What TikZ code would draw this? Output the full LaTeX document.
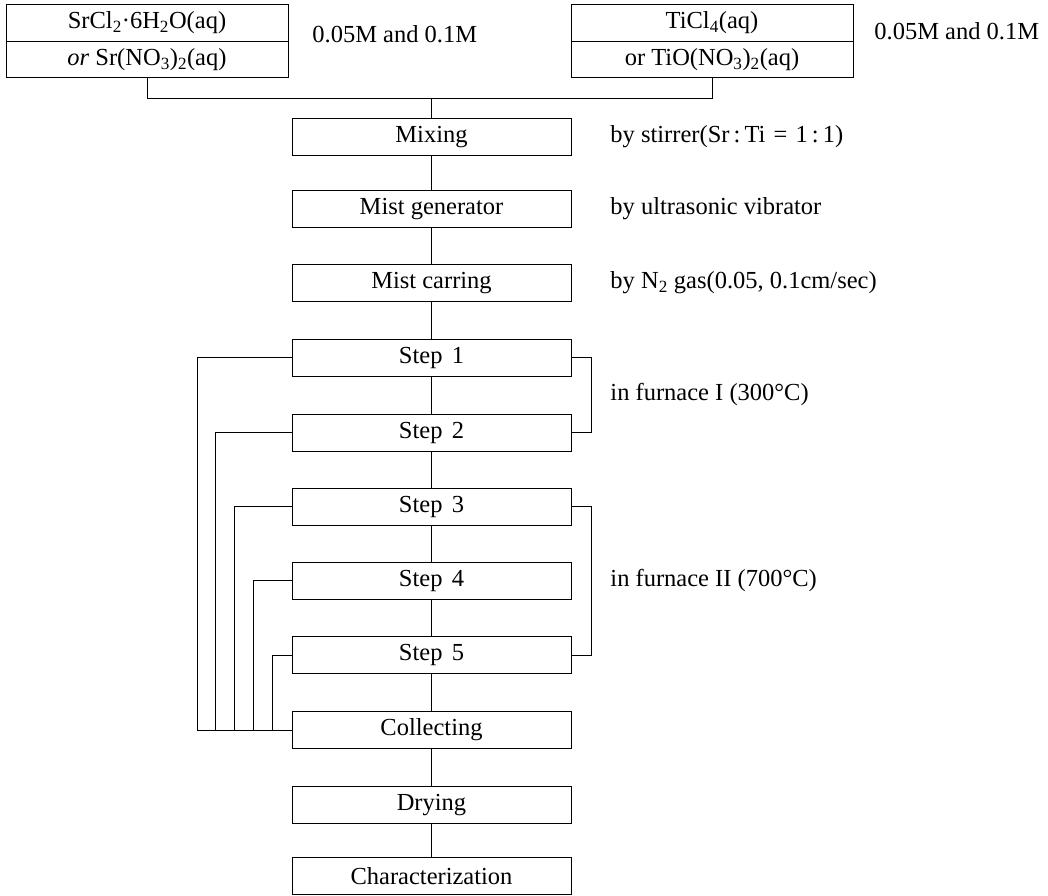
\documentclass[tikz,border=0pt]{standalone}
\usepackage{fontspec}
\setmainfont{Liberation Serif}
\newcommand{\stp}[1]{Step\hspace{0.38em}#1}
\begin{document}
\begin{tikzpicture}[x=1pt,y=-1pt, line width=0.9pt,
  font=\fontsize{24.5}{28}\selectfont,
  box/.style={draw, minimum width=279pt, minimum height=37pt, inner sep=0pt},
  src/.style={draw, minimum width=282pt, minimum height=36.5pt, inner sep=0pt},
  lbl/.style={anchor=west, inner sep=0pt}]
\useasboundingbox (0,0) rectangle (1048,895);
% source boxes
\node[src] (L1) at (147,23) {SrCl\textsubscript{2}·6H\textsubscript{2}O(aq)};
\node[src] (L2) at (147,59.5) {\textit{or} Sr(NO\textsubscript{3})\textsubscript{2}(aq)};
\node[src] (R1) at (712,23) {TiCl\textsubscript{4}(aq)};
\node[src] (R2) at (712,59.5) {or TiO(NO\textsubscript{3})\textsubscript{2}(aq)};
\node[lbl] (cL) at (312,34) {0.05M and 0.1M};
\node[lbl] (cR) at (874,31) {0.05M and 0.1M};
% main column
\node[box] (mix) at (431.5,137) {Mixing};
\node[box] (mg)  at (431.5,209) {Mist generator};
\node[box] (mc)  at (431.5,283) {Mist carring};
\node[box] (s1)  at (431.5,357.5) {\stp{1}};
\node[box] (s2)  at (431.5,432.5) {\stp{2}};
\node[box] (s3)  at (431.5,506.5) {\stp{3}};
\node[box] (s4)  at (431.5,580.5) {\stp{4}};
\node[box] (s5)  at (431.5,655) {\stp{5}};
\node[box] (col) at (431.5,730) {Collecting};
\node[box] (dry) at (431.5,805) {Drying};
\node[box] (chr) at (431.5,876) {Characterization};
% right labels
\node[lbl] (t1) at (610,137) {by stirrer(Sr\,:\,Ti\,\,=\,\,1\,:\,1)};
\node[lbl] (t2) at (610,209) {by ultrasonic vibrator};
\node[lbl] (t3) at (610,283) {by N\textsubscript{2} gas(0.05, 0.1cm/sec)};
\node[lbl] (t4) at (610,394) {in furnace I (300°C)};
\node[lbl] (t5) at (610,580) {in furnace II (700°C)};
% connectors
\draw (L2.south) -- ++(0,20) -| (R2.south);
\draw (mix.north) -- ++(0,-20);
\foreach \a/\b in {mix/mg, mg/mc, mc/s1, s1/s2, s2/s3, s3/s4, s4/s5, s5/col, col/dry, dry/chr}
  \draw (\a.south) -- (\b.north);
\foreach \n/\d in {s1/94.5, s2/76.5, s3/57.5, s4/38.5, s5/19.5}
  \draw (\n.west) -| ([xshift=-\d pt]col.west) -- (col.west);
\draw (s1.east) -- ++(20,0) |- (s2.east);
\draw (s3.east) -- ++(20,0) |- (s5.east);
\end{tikzpicture}
\end{document}
